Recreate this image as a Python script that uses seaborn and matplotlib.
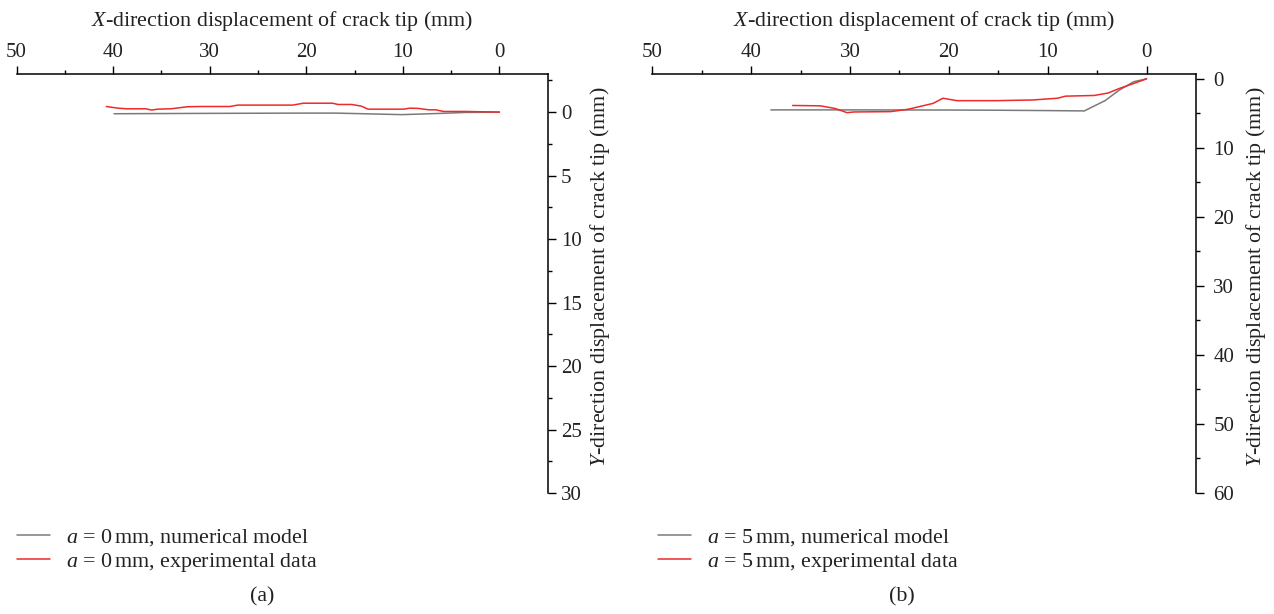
import matplotlib
matplotlib.use("Agg")
import matplotlib.pyplot as plt
import pandas as pd
import seaborn as sns
from matplotlib.ticker import FixedLocator

sns.set_theme(style="white")
plt.rcParams["font.family"] = ["Liberation Serif", "DejaVu Serif"]
plt.rcParams["mathtext.fontset"] = "custom"
plt.rcParams["mathtext.rm"] = "Liberation Serif"
plt.rcParams["mathtext.it"] = "Liberation Serif:italic"

# ---- crack-tip path, a = 0 mm ----
a0_num_x = [39.9, 30.0, 20.0, 16.9, 13.0, 10.1, 6.0, 3.6, 0.0]
a0_num_y = [0.13, 0.10, 0.08, 0.08, 0.15, 0.20, 0.10, 0.03, 0.0]
a0_exp_x = [40.7, 39.5, 38.6, 36.6, 36.0, 35.4, 34.0, 32.3, 31.0, 27.9, 27.1,
            21.4, 20.3, 17.3, 16.7, 15.3, 14.3, 13.6, 9.9, 9.3, 8.4, 7.3,
            6.6, 5.8, 3.6, 0.0]
a0_exp_y = [-0.44, -0.31, -0.26, -0.26, -0.16, -0.23, -0.26, -0.42, -0.44,
            -0.44, -0.55, -0.55, -0.70, -0.70, -0.60, -0.60, -0.47, -0.23,
            -0.23, -0.31, -0.29, -0.18, -0.18, -0.05, -0.05, 0.0]

# ---- crack-tip path, a = 5 mm ----
a5_num_x = [38.0, 30.0, 20.0, 15.0, 10.0, 6.3, 4.2, 2.8, 1.3, 0.0]
a5_num_y = [4.50, 4.50, 4.52, 4.55, 4.60, 4.65, 3.16, 1.67, 0.42, 0.0]
a5_exp_x = [35.8, 33.0, 31.5, 30.3, 29.6, 25.9, 24.1, 21.6, 20.6, 19.2, 15.1,
            11.5, 9.0, 8.2, 5.3, 3.9, 2.8, 1.3, 0.0]
a5_exp_y = [3.86, 3.91, 4.30, 4.90, 4.80, 4.75, 4.40, 3.56, 2.81, 3.16, 3.16,
            3.06, 2.81, 2.51, 2.41, 2.06, 1.42, 0.67, 0.0]

x_label = r"$X$-direction displacement of crack tip (mm)"
y_label = r"$Y$-direction displacement of crack tip (mm)"

GRAY = "#7a7a7a"
RED = "#ee2a2a"
TEXT = "#222222"
LABEL_FS = 15.8
TICK_FS = 15

fig = plt.figure(figsize=(12.74, 6.14), dpi=100)
W, H = 1274, 614


def add_axes(left, right, top, bottom):
    return fig.add_axes([left / W, 1 - bottom / H, (right - left) / W, (bottom - top) / H])


panels = [
    dict(ax=add_axes(16.5, 547.7, 74, 493), ylim=(30, -3),
         ymaj=[0, 5, 10, 15, 20, 25, 30], ymin=[-2.5, 2.5, 7.5, 12.5, 17.5, 22.5, 27.5],
         num=(a0_num_x, a0_num_y), exp=(a0_exp_x, a0_exp_y), a=0, tag="(a)",
         leg_x=17, tag_x=262, ypad=4, ylab_x=1.076),
    dict(ax=add_axes(652.3, 1196, 74, 493), ylim=(60, -0.7),
         ymaj=[0, 10, 20, 30, 40, 50, 60], ymin=[5, 15, 25, 35, 45, 55],
         num=(a5_num_x, a5_num_y), exp=(a5_exp_x, a5_exp_y), a=5, tag="(b)",
         leg_x=658, tag_x=902, ypad=7, ylab_x=1.088),
]

for p in panels:
    ax = p["ax"]
    num = pd.DataFrame({"x": p["num"][0], "y": p["num"][1]})
    exp = pd.DataFrame({"x": p["exp"][0], "y": p["exp"][1]})
    sns.lineplot(data=num, x="x", y="y", sort=False, estimator=None, ax=ax,
                 color=GRAY, linewidth=1.1,
                 label=rf"$a$ = {p['a']}$\,$mm, numerical model")
    sns.lineplot(data=exp, x="x", y="y", sort=False, estimator=None, ax=ax,
                 color=RED, linewidth=1.1,
                 label=rf"$a$ = {p['a']}$\,$mm, experimental data")

    ax.set_xlim(50, -5)
    ax.set_ylim(*p["ylim"])
    ax.set_facecolor("white")
    for side in ("left", "bottom"):
        ax.spines[side].set_visible(False)
    for side in ("top", "right"):
        ax.spines[side].set_visible(True)
        ax.spines[side].set_color("black")
        ax.spines[side].set_linewidth(1.1)

    ax.xaxis.tick_top()
    ax.xaxis.set_label_position("top")
    ax.yaxis.tick_right()
    ax.yaxis.set_label_position("right")

    ax.xaxis.set_major_locator(FixedLocator([50, 40, 30, 20, 10, 0]))
    ax.xaxis.set_minor_locator(FixedLocator([45, 35, 25, 15, 5]))
    ax.yaxis.set_major_locator(FixedLocator(p["ymaj"]))
    ax.yaxis.set_minor_locator(FixedLocator(p["ymin"]))
    ax.tick_params(which="both", direction="out", color="black", width=1.0,
                   labelsize=TICK_FS, labelcolor=TEXT)
    ax.tick_params(which="major", length=5.5)
    ax.tick_params(which="minor", length=3)
    ax.tick_params(axis="x", which="both", top=True, bottom=False,
                   labeltop=True, labelbottom=False, pad=3)
    ax.tick_params(axis="y", which="both", right=True, left=False,
                   labelright=True, labelleft=False, pad=p["ypad"])

    ax.set_xlabel(x_label, fontsize=LABEL_FS, color=TEXT)
    ax.xaxis.set_label_coords(0.50, 1.115)
    ax.set_ylabel(y_label, fontsize=LABEL_FS, color=TEXT, rotation=90)
    ax.yaxis.set_label_coords(p["ylab_x"], 0.515)
    ax.grid(False)

    ax.legend(loc="upper left", bbox_to_anchor=(p["leg_x"] / W, 1 - 527 / H),
              bbox_transform=fig.transFigure, frameon=False, fontsize=LABEL_FS,
              handlelength=1.5, handletextpad=0.72, borderaxespad=0,
              borderpad=0, labelspacing=0.12)
    for t in ax.get_legend().get_texts():
        t.set_color(TEXT)

    fig.text(p["tag_x"] / W, 1 - 597 / H, p["tag"], ha="center", va="center",
             fontsize=LABEL_FS, color=TEXT)

fig.savefig("out.png", dpi=100, facecolor="white")
